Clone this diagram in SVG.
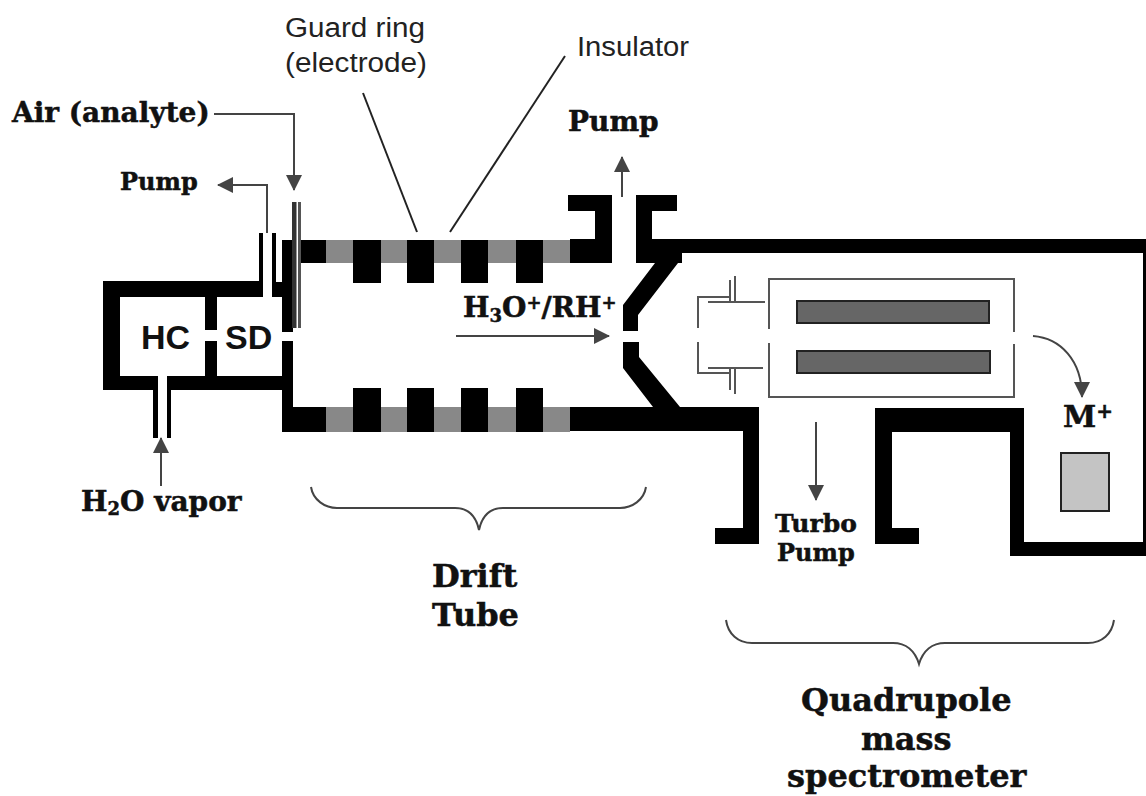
<svg xmlns="http://www.w3.org/2000/svg" width="1146" height="796" viewBox="0 0 1146 796">
<defs>
<marker id="ah" markerUnits="userSpaceOnUse" viewBox="0 0 16 16" refX="15" refY="8" markerWidth="16" markerHeight="16" orient="auto"><path d="M0 0L16 8L0 16z" fill="#444"/></marker>
</defs>
<style>
.k{fill:#000}
.g{fill:#888}
.t{fill:none;stroke:#555;stroke-width:2}
.a{fill:none;stroke:#444;stroke-width:2;marker-end:url(#ah)}
.n{fill:none;stroke:#222;stroke-width:2}
.s{font-family:"DejaVu Serif","Liberation Serif",serif;font-weight:bold;fill:#111;stroke:#111;stroke-width:.5}
.l{font-family:"Liberation Sans",Arial,sans-serif;fill:#222;font-size:27px}
.h{font-family:"Liberation Sans",Arial,sans-serif;font-weight:bold;fill:#111;font-size:34px}
.b{fill:none;stroke:#444;stroke-width:2}
</style>
<rect width="1146" height="796" fill="#fff"/>
<g id="chambers">
<path class="k" d="M103 281H263V297H217V330H205V297H120V376H158V390H103z"/>
<path class="k" d="M205 341H217V376H282V341H293V407H326V432H282V390H167V376H205z"/>
<path class="k" d="M272 282H282V240H293V332H282V297H272z"/>
<rect class="k" x="259" y="233" width="4" height="50"/>
<rect class="k" x="272" y="233" width="4" height="50"/>
<rect class="k" x="153" y="390" width="5" height="48"/>
<rect class="k" x="167" y="390" width="4" height="48"/>
<text class="h" x="141" y="349">HC</text>
<text class="h" x="225" y="349">SD</text>
</g>
<g id="plates">
<rect x="292" y="202" width="4.500" height="126" fill="#333"/>
<rect x="298" y="202" width="3" height="126" fill="#555"/>
</g>
<g id="drift-tube">
<rect class="g" x="326" y="240" width="244" height="23"/>
<rect class="g" x="326" y="407" width="244" height="25"/>
<rect class="k" x="301" y="240" width="25" height="23"/>
<rect class="k" x="353" y="240" width="28" height="43"/>
<rect class="k" x="407" y="240" width="27" height="43"/>
<rect class="k" x="461" y="240" width="27" height="43"/>
<rect class="k" x="516" y="240" width="27" height="43"/>
<rect class="k" x="353" y="388" width="28" height="44"/>
<rect class="k" x="407" y="388" width="27" height="44"/>
<rect class="k" x="461" y="388" width="27" height="44"/>
<rect class="k" x="516" y="388" width="27" height="44"/>
<path class="k" d="M570 239H595V211H568V195H612V263H570z"/>
<path class="k" d="M636 195H677V211H652V239H1146V253H682V263H678L638 315V331H623V305L655 263H636z"/>
<path class="k" d="M623 342H639V357L680 407H759V544H715V528H743V431H570V407H653L623 368z"/>
<path class="k" d="M875 408H1024V542H1146V556H1010V432H892V528H919V544H875z"/>
<rect class="k" x="1143" y="253" width="3" height="290"/>
</g>
<g id="quadrupole">
<path class="t" d="M769 329V279H1014V332M1014 344V397H769V343"/>
<rect x="797" y="301" width="192" height="22" fill="#666" stroke="#222" stroke-width="2"/>
<rect x="797" y="351" width="193" height="22" fill="#666" stroke="#222" stroke-width="2"/>
<path class="t" d="M698 328V297H730M698 342V373H730M708 302H765M708 368H763M730 280V302M735 276V302M730 368V390M735 368V394"/>
</g>
<g id="detector">
<rect x="1061" y="453" width="48" height="58" fill="#c4c4c4" stroke="#222" stroke-width="2"/>
</g>
<g id="connectors">
<path class="a" d="M214 114H294V190"/>
<path class="a" d="M267 233V185H218"/>
<path class="a" d="M622 197V157"/>
<path class="a" d="M161 486V438"/>
<path class="a" d="M456 336H609"/>
<path class="a" d="M816 422V500"/>
<path class="a" d="M1033 336C1060 338 1082 360 1082 397"/>
<path class="n" d="M363 93L417 232"/>
<path class="n" d="M565 56L450 232"/>
<path class="b" d="M311 487C313 500 325 508 337 508H455C468 508 476 516 479 530C482 516 490 508 503 508H620C632 508 644 500 646 487"/>
<path class="b" d="M726 620C728 634 738 643 752 643H893C906 643 915 651 919 664C923 651 932 643 945 643H1088C1102 643 1112 634 1114 620"/>
</g>
<g id="labels">
<text class="l" x="285" y="37" textLength="140" lengthAdjust="spacingAndGlyphs">Guard ring</text>
<text class="l" x="285" y="72" textLength="142" lengthAdjust="spacingAndGlyphs">(electrode)</text>
<text class="l" x="577" y="56" textLength="112" lengthAdjust="spacingAndGlyphs">Insulator</text>
<text class="s" x="12" y="122" font-size="28">Air (analyte)</text>
<text class="s" x="120" y="190" font-size="24">Pump</text>
<text class="s" x="568" y="131" font-size="28">Pump</text>
<text class="s" x="463" y="317" font-size="28">H<tspan font-size="18" dy="5">3</tspan><tspan dy="-5">O</tspan><tspan font-size="18" dy="-8">+</tspan><tspan dy="8">/RH</tspan><tspan font-size="18" dy="-8">+</tspan></text>
<text class="s" x="81" y="511" font-size="28">H<tspan font-size="18" dy="4">2</tspan><tspan dy="-4">O vapor</tspan></text>
<text class="s" x="1063" y="427" font-size="30">M<tspan font-size="20" dy="-9">+</tspan></text>
<text class="s" x="775" y="532" font-size="25">Turbo</text>
<text class="s" x="777" y="561" font-size="24">Pump</text>
<text class="s" x="432" y="587" font-size="32">Drift</text>
<text class="s" x="432" y="626" font-size="32">Tube</text>
<text class="s" x="801" y="711" font-size="32">Quadrupole</text>
<text class="s" x="861" y="750" font-size="32">mass</text>
<text class="s" x="787" y="787" font-size="32">spectrometer</text>
</g>
</svg>
